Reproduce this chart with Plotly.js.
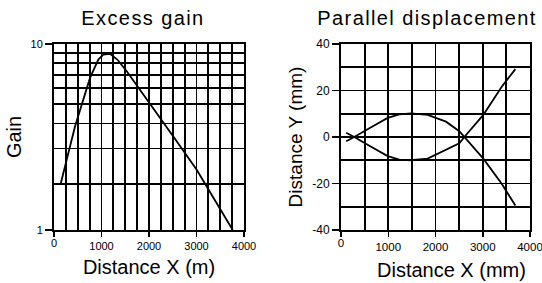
<!DOCTYPE html>
<html>
<head>
<meta charset="utf-8">
<script src="https://cdn.plot.ly/plotly-3.0.1.min.js"></script>
<style>
  html, body { margin: 0; padding: 0; background: #fff; }
  #chart { width: 542px; height: 283px; position: relative; }
  .annotation-text.title-ann { letter-spacing: 1.4px; }
  .corner-label {
    position: absolute; z-index: 10; transform: translateX(-50%);
    font-family: "Liberation Sans", Arial, sans-serif; color: #000;
    line-height: 1; white-space: nowrap; pointer-events: none;
  }
</style>
</head>
<body>
<div id="chart"></div>
<script>
// ---- Excess gain (left) ----
const gainDistance = [141, 442, 758, 933, 1038, 1179, 1333, 1531, 2512, 3004, 3762];
const gainValue    = [2.0, 3.87, 6.77, 8.36, 8.86, 8.93, 8.36, 7.31, 3.45, 2.35, 1.175];
const gainAxisBottom = 1.175;          // value where the bottom axis (labelled "1") sits
const gainGridValues = [2, 3, 4, 5, 6, 7, 8, 9];
const gainTickLabels = ['1', '10'];
const gainXTicks = [0, 1000, 2000, 3000, 4000];
const gainXLabels = ['0', '1000', '2000', '3000', '4000'];

// ---- Parallel displacement (right) ----
const dispX  = [110, 280, 600, 988, 1234, 1481, 1834, 2222, 2504, 2610, 3012, 3401, 3690];
const dispYa = [-1.8, 0, 3.8, 8.2, 9.7, 10.2, 9.5, 6.6, 2.5, 0, -9.3, -20.1, -29.5];
const dispYb = [1.8, 0, -3.8, -8.2, -9.7, -10.0, -9.3, -5.6, -2.7, 0, 9.5, 21.6, 29.2];
const dispXTicks = [0, 1000, 2000, 3000, 4000];
const dispXLabels = ['0', '1000', '2000', '3000', '4000'];
const dispYTicks = [-40, -20, 0, 20, 40];
const dispYLabels = ['-40', '-20', '0', '20', '40'];

const black = '#000000';
const lineStyle = { color: black, width: 1.8 };

const traces = [
  { x: gainDistance, y: gainValue, type: 'scatter', mode: 'lines', line: lineStyle, xaxis: 'x', yaxis: 'y', hoverinfo: 'skip' },
  { x: dispX, y: dispYa, type: 'scatter', mode: 'lines', line: lineStyle, xaxis: 'x2', yaxis: 'y2', hoverinfo: 'skip' },
  { x: dispX, y: dispYb, type: 'scatter', mode: 'lines', line: lineStyle, xaxis: 'x2', yaxis: 'y2', hoverinfo: 'skip' }
];

const W = 542, H = 283;
const plotBottom = 53 / H, plotTop = 239 / H;
const gridCommon = { showgrid: true, gridcolor: black, gridwidth: 1.8 };
const axisCommon = {
  showline: true, mirror: true, linecolor: black, linewidth: 2,
  zeroline: false, ticks: 'outside', tickcolor: black, tickwidth: 1.5,
  gridcolor: black, gridwidth: 1.8, showgrid: true, fixedrange: true,
  ticklabeloverflow: 'allow'
};

// Plotly does not show the corner label ("0") of these x axes, so the first
// tick keeps an empty axis label and its text is added after drawing, placed
// with the axis' own scale (l2p) below the first tick.
function axisLabels(labels) { return [''].concat(labels.slice(1)); }

const layout = {
  width: W, height: H,
  margin: { l: 0, r: 0, t: 0, b: 0 },
  paper_bgcolor: '#ffffff', plot_bgcolor: '#ffffff',
  showlegend: false,
  font: { family: '"Liberation Sans", Arial, sans-serif', color: black },
  xaxis: Object.assign({}, axisCommon, {
    domain: [54 / W, 244 / W], anchor: 'y', range: [0, 4000],
    tickmode: 'array', tickvals: gainXTicks, ticktext: axisLabels(gainXLabels), ticklen: 5,
    tickfont: { size: 11, color: black },
    minor: Object.assign({ dtick: 250, tick0: 0, ticks: '' }, gridCommon),
    title: { text: 'Distance X (m)', font: { size: 20 }, standoff: 9 }
  }),
  yaxis: Object.assign({}, axisCommon, {
    domain: [plotBottom, plotTop], anchor: 'x', type: 'log',
    range: [Math.log10(gainAxisBottom), 1],
    tickmode: 'array', tickvals: [gainAxisBottom, 10], ticktext: gainTickLabels, ticklen: 7,
    tickfont: { size: 11, color: black },
    minor: Object.assign({ tickmode: 'array', tickvals: gainGridValues, ticks: '' }, gridCommon),
    title: { text: 'Gain', font: { size: 20 }, standoff: 4 }
  }),
  xaxis2: Object.assign({}, axisCommon, {
    domain: [341 / W, 530 / W], anchor: 'y2', range: [0, 4000],
    tickmode: 'array', tickvals: dispXTicks, ticktext: axisLabels(dispXLabels), ticklen: 5,
    tickfont: { size: 11.5, color: black },
    minor: Object.assign({ dtick: 500, tick0: 0, ticks: '' }, gridCommon),
    title: { text: '', font: { size: 20 } }
  }),
  yaxis2: Object.assign({}, axisCommon, {
    domain: [plotBottom, plotTop], anchor: 'x2', range: [-40, 40],
    tickmode: 'array', tickvals: dispYTicks, ticktext: dispYLabels, ticklen: 7,
    tickfont: { size: 12, color: black },
    minor: Object.assign({ dtick: 10, tick0: 0, ticks: '' }, gridCommon),
    title: { text: 'Distance Y (mm)', font: { size: 19 }, standoff: 5 }
  }),
  annotations: [
    { text: 'Excess gain', x: 143 / W, y: 1 - 18 / H, xref: 'paper', yref: 'paper',
      xanchor: 'center', yanchor: 'middle', showarrow: false, font: { size: 20, color: black } },
    { text: 'Parallel displacement', x: 427 / W, y: 1 - 18 / H, xref: 'paper', yref: 'paper',
      xanchor: 'center', yanchor: 'middle', showarrow: false, font: { size: 20, color: black } },
    { text: 'Distance X (mm)', x: 451.5 / W, y: 1 - 270 / H, xref: 'paper', yref: 'paper',
      xanchor: 'center', yanchor: 'middle', showarrow: false, font: { size: 20, color: black } }
  ]
};

const gd = document.getElementById('chart');
Plotly.newPlot(gd, traces, layout, { displayModeBar: false, staticPlot: true }).then(function () {
  const anns = gd.querySelectorAll('.annotation-text');
  for (let i = 0; i < 2 && i < anns.length; i++) anns[i].classList.add('title-ann');

  const fl = gd._fullLayout;
  [['xaxis', 'yaxis', gainXTicks[0], gainXLabels[0], 11],
   ['xaxis2', 'yaxis2', dispXTicks[0], dispXLabels[0], 11.5]].forEach(function (c) {
    const xa = fl[c[0]], ya = fl[c[1]];
    const span = document.createElement('span');
    span.className = 'corner-label';
    span.textContent = c[3];
    span.style.fontSize = c[4] + 'px';
    span.style.left = (xa._offset + xa.l2p(c[2])) + 'px';
    span.style.top = (ya._offset + ya._length + xa.ticklen + 3) + 'px';
    gd.appendChild(span);
  });
});
</script>
</body>
</html>
